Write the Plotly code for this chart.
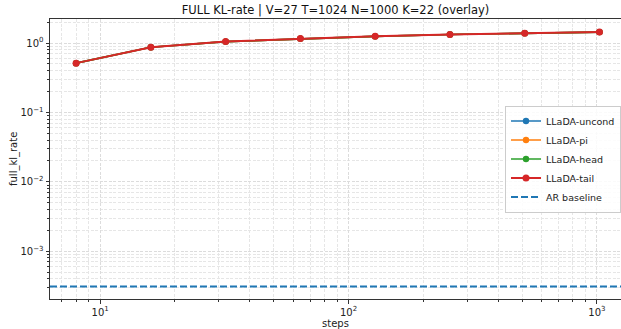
import plotly.graph_objects as go

steps = [8, 16, 32, 64, 128, 256, 512, 1024]
kl_uncond = [0.514, 0.87, 1.05, 1.16, 1.25, 1.33, 1.39, 1.44]
kl_pi = [0.514, 0.87, 1.05, 1.16, 1.25, 1.33, 1.39, 1.44]
kl_head = [0.514, 0.87, 1.05, 1.16, 1.25, 1.33, 1.39, 1.44]
kl_tail = [0.514, 0.87, 1.05, 1.16, 1.25, 1.33, 1.39, 1.44]
ar_baseline = 3.1e-4

series_names = ["LLaDA-uncond", "LLaDA-pi", "LLaDA-head", "LLaDA-tail"]
series_vals = [kl_uncond, kl_pi, kl_head, kl_tail]
colors = ["#1f77b4", "#ff7f0e", "#2ca02c", "#d62728"]

x_tickvals = [10, 100, 1000]
x_ticktext = ["10<sup>1</sup>", "10<sup>2</sup>", "10<sup>3</sup>"]
y_tickvals = [1e-3, 1e-2, 1e-1, 1]
y_ticktext = ["10<sup>\u22123</sup>", "10<sup>\u22122</sup>", "10<sup>\u22121</sup>", "10<sup>0</sup>"]

fig = go.Figure()
for i, (name, vals, c) in enumerate(zip(series_names, series_vals, colors)):
    top = i == len(series_names) - 1
    fig.add_trace(go.Scatter(x=steps, y=vals, name=name, mode="lines+markers",
                             line=dict(color=c, width=2 if top else 1.7),
                             marker=dict(color=c, size=7 if top else 6.4)))

fig.add_hline(y=ar_baseline, line=dict(color="#1f77b4", width=2, dash="7px,3px"),
              showlegend=True, name="AR baseline", layer="above")

grid = "#dcdcdc"
minor_grid = "#e6e6e6"
axis_common = dict(type="log", showline=True, linecolor="#333", linewidth=1,
                   ticks="outside", ticklen=3.5, tickcolor="#333", showgrid=True,
                   gridcolor=grid, griddash="3px,1.5px", gridwidth=0.8, zeroline=False,
                   tickfont=dict(size=10, color="#222"))

fig.update_xaxes(**axis_common, mirror=True, range=[0.798, 3.097], tickvals=x_tickvals,
                 ticktext=x_ticktext,
                 minor=dict(ticks="outside", ticklen=2, tickcolor="#333", showgrid=True,
                            gridcolor=minor_grid, griddash="3px,1.5px", gridwidth=0.6, dtick="D1"))
fig.update_yaxes(**axis_common, mirror=False, range=[-3.689, 0.347], tickvals=y_tickvals,
                 ticktext=y_ticktext,
                 minor=dict(ticks="outside", ticklen=2, tickcolor="#333", showgrid=True,
                            gridcolor=minor_grid, griddash="3px,1.5px", gridwidth=0.6, dtick="D1"))

fig.update_layout(
    width=621, height=329,
    margin=dict(l=50, r=0, t=19, b=30),
    paper_bgcolor="white", plot_bgcolor="white",
    font=dict(family="DejaVu Sans", size=10, color="#222"),
    title=dict(text="FULL KL-rate | V=27 T=1024 N=1000 K=22 (overlay)", x=0.5, xanchor="center",
               xref="paper", y=1 - 10 / 329, yanchor="middle", font=dict(size=11.5, color="#111")),
    legend=dict(x=1.0, y=0.5, xanchor="right", yanchor="middle", bgcolor="rgba(255,255,255,0.85)",
                bordercolor="#ccc", borderwidth=1, font=dict(size=9.5, family="DejaVu Sans"),
                tracegroupgap=0),
    showlegend=True,
    annotations=[
        dict(text="steps", xref="paper", yref="paper", x=0.5, y=-24 / 280, xanchor="center",
             yanchor="middle", showarrow=False, font=dict(size=10, color="#222")),
        dict(text="full_kl_rate", xref="paper", yref="paper", x=-36 / 571, y=0.5, xanchor="center",
             yanchor="middle", textangle=-90, showarrow=False, font=dict(size=10, color="#222")),
    ],
)

fig.write_html("out.html", config={"displayModeBar": False},
               post_script="document.body.style.margin='0';document.body.style.overflow='hidden';")
